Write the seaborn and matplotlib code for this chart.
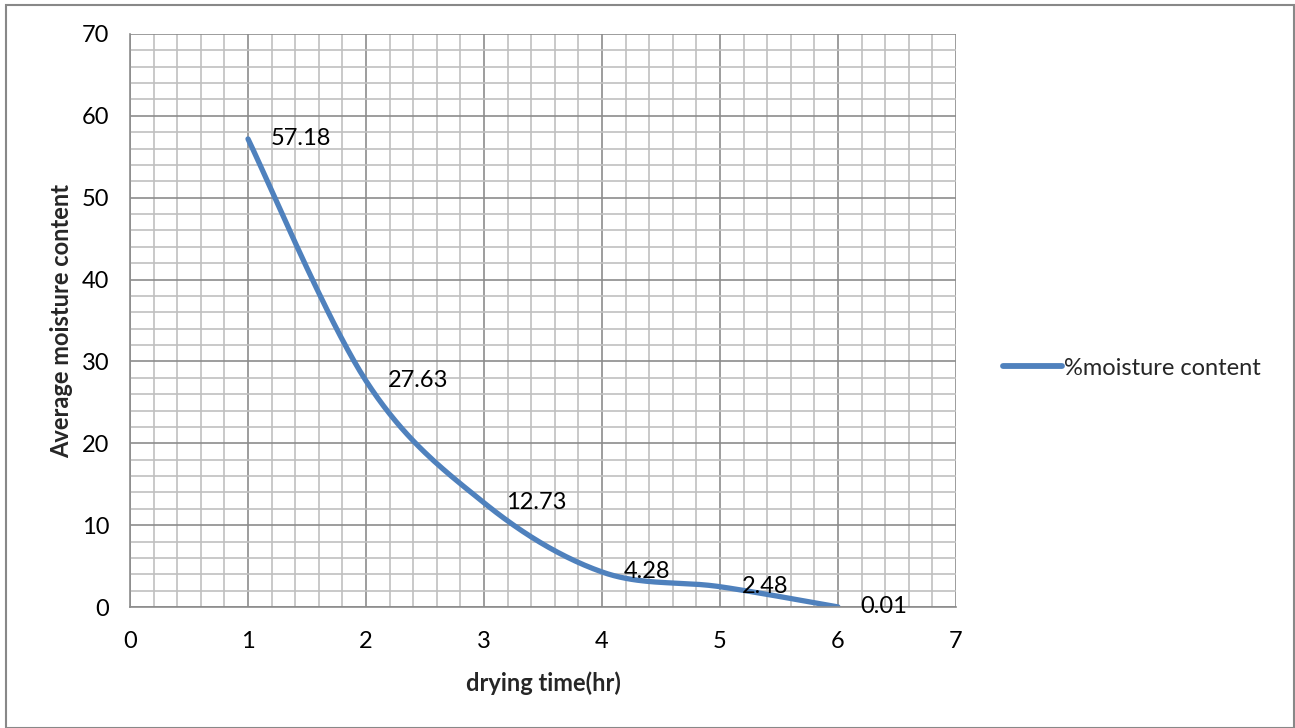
import numpy as np
import pandas as pd
import seaborn as sns
import matplotlib
matplotlib.use("Agg")
import matplotlib.pyplot as plt
from matplotlib.patches import Rectangle

# Drying data
drying_time = [1, 2, 3, 4, 5, 6]
moisture = [57.18, 27.63, 12.73, 4.28, 2.48, 0.01]
value_labels = ["57.18", "27.63", "12.73", "4.28", "2.48", "0.01"]
series_name = "%moisture content"

sns.set_theme(style="white")
plt.rcParams["font.family"] = ["Lato", "DejaVu Sans"]

LINE_COLOR = "#4F81BD"
FS = 17


def smooth_curve(x, y, steps=40):
    """Catmull-Rom style Bezier smoothing through every data point."""
    pts = np.column_stack([x, y]).astype(float)
    n = len(pts)
    out = []
    for i in range(n - 1):
        p0 = pts[max(i - 1, 0)]
        p1 = pts[i]
        p2 = pts[i + 1]
        p3 = pts[min(i + 2, n - 1)]
        c1 = p1 + (p2 - p0) / 6.0
        c2 = p2 - (p3 - p1) / 6.0
        t = np.linspace(0, 1, steps, endpoint=(i == n - 2))[:, None]
        seg = ((1 - t) ** 3) * p1 + 3 * ((1 - t) ** 2) * t * c1 + 3 * (1 - t) * t ** 2 * c2 + t ** 3 * p2
        out.append(seg)
    out = np.vstack(out)
    return out[:, 0], out[:, 1]


sx, sy = smooth_curve(drying_time, moisture)
curve = pd.DataFrame({"drying time(hr)": sx, "moisture": sy, "series": series_name})

fig = plt.figure(figsize=(12.95, 7.28), dpi=100)
ax = fig.add_axes([130 / 1295, 1 - 607 / 728, (956 - 130) / 1295, (607 - 34) / 728])

# Outer chart frame
fig.patches.append(Rectangle((6 / 1295, 0), 1288 / 1295, 1 - 5 / 728, transform=fig.transFigure,
                             fill=False, edgecolor="#888888", linewidth=1.5))

sns.lineplot(data=curve, x="drying time(hr)", y="moisture", hue="series", palette=[LINE_COLOR],
             sort=False, estimator=None, linewidth=3.8, solid_capstyle="round", ax=ax)

ax.set_xlim(0, 7)
ax.set_ylim(0, 70)
ax.set_xticks(np.arange(0, 8, 1))
ax.set_yticks(np.arange(0, 80, 10))
ax.set_xticks(np.arange(0, 7.01, 0.2), minor=True)
ax.set_yticks(np.arange(0, 70.01, 2), minor=True)
ax.grid(which="minor", color="#c0c0c0", linewidth=1.2)
ax.grid(which="major", color="#8c8c8c", linewidth=1.2)
ax.set_axisbelow(True)

for side in ["top", "right"]:
    ax.spines[side].set_visible(False)
for side in ["left", "bottom"]:
    ax.spines[side].set_color("#8c8c8c")
    ax.spines[side].set_linewidth(1.2)

ax.tick_params(which="major", direction="out", length=7, width=1.2, color="#8c8c8c",
               labelsize=FS, labelcolor="black", pad=8)
ax.tick_params(which="minor", length=0)
ax.tick_params(axis="x", pad=10)

ax.set_xlabel("drying time(hr)", fontsize=FS, fontweight="bold", labelpad=14)
ax.set_ylabel("Average moisture content", fontsize=FS, fontweight="bold", labelpad=6)

for xv, yv, lab in zip(drying_time, moisture, value_labels):
    ax.annotate(lab, (xv, yv), xytext=(16, 0), textcoords="offset points",
                ha="left", va="center", fontsize=FS, color="black")

leg = ax.legend(loc="center left", bbox_to_anchor=(1.057, 0.417), frameon=False, fontsize=FS,
                handlelength=2.5, handletextpad=0.1, borderpad=0, borderaxespad=0)
for h in leg.get_lines():
    h.set_linewidth(4.2)

fig.savefig("out.png", dpi=100)
